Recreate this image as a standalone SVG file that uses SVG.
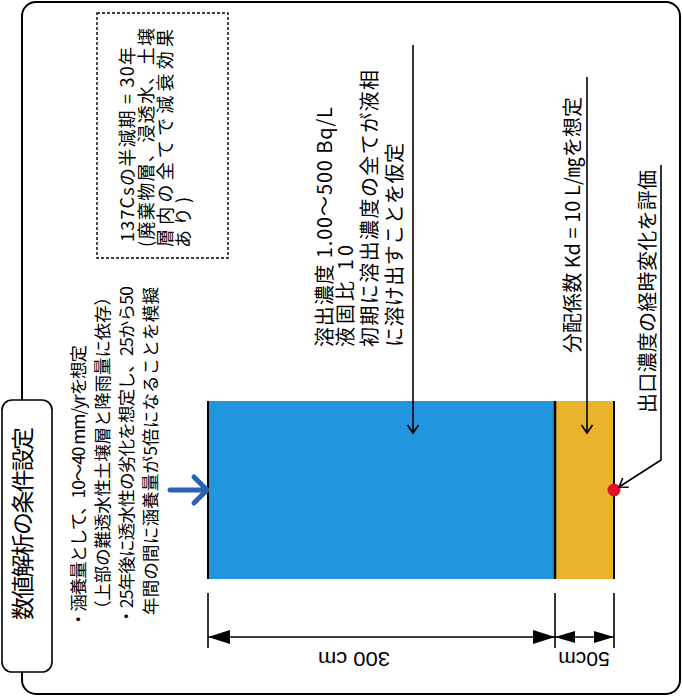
<svg xmlns="http://www.w3.org/2000/svg" width="683" height="698" viewBox="0 0 683 698">
<style>
text{font-family:"Noto Sans CJK JP","Noto Sans",sans-serif;fill:#000}
.t23{font-size:23px}
.t20{font-size:20px}
.t17{font-size:17.5px}
.t18{font-size:18px}
.dim{font-family:"Liberation Sans",Arial,sans-serif;font-size:21px}
.edge{stroke:#000;fill:none}
.lead{stroke:#000;stroke-width:1.6;fill:none}
</style>
<defs>
<marker id="chev" viewBox="-10 -6 12 12" refX="0" refY="0" markerWidth="12" markerHeight="12" markerUnits="userSpaceOnUse" orient="auto">
<path d="M-8,-5.5 L0,0 L-8,5.5" fill="none" stroke="#000" stroke-width="1.6"/>
</marker>
</defs>
<rect width="683" height="698" fill="#fff"/>
<g id="frame">
<rect x="22" y="2" width="658" height="692" rx="14" class="edge" stroke-width="2"/>
</g>
<g id="title">
<rect x="2" y="400" width="50" height="272" rx="10" fill="#fff" stroke="#000" stroke-width="1.6"/>
<text class="t23" transform="translate(31,620) rotate(-90)" textLength="193" lengthAdjust="spacing">数値解析の条件設定</text>
</g>
<g id="recharge-note">
<text class="t17" transform="translate(85,628) rotate(-90)" textLength="283" lengthAdjust="spacing">・涵養量として、10〜40 mm/yrを想定</text>
<text class="t17" transform="translate(109,618) rotate(-90)" textLength="330" lengthAdjust="spacing">（上部の難透水性土壌層と降雨量に依存）</text>
<text class="t17" transform="translate(133,625) rotate(-90)" textLength="339" lengthAdjust="spacing">・25年後に透水性の劣化を想定し、25から50</text>
<text class="t17" transform="translate(157,615) rotate(-90)" textLength="328" lengthAdjust="spacing">年間の間に涵養量が5倍になることを模擬</text>
</g>
<g id="decay-note">
<rect x="97" y="13" width="131" height="245" fill="none" stroke="#000" stroke-width="1.4" stroke-dasharray="3,2"/>
<text class="t18" transform="translate(134,242) rotate(-90)" textLength="195" lengthAdjust="spacing">137Csの半減期 = 30年</text>
<text class="t18" transform="translate(153,247) rotate(-90)" textLength="219" lengthAdjust="spacing">(廃棄物層、浸透水、土壌</text>
<text class="t18" transform="translate(172,247) rotate(-90)" textLength="218" lengthAdjust="spacing">層内の全てで減衰効果</text>
<text class="t18" transform="translate(190,248) rotate(-90)" textLength="51" lengthAdjust="spacing">あり)</text>
</g>
<g id="waste-layer">
<rect x="208" y="401" width="347" height="178" fill="#2196de"/>
<line x1="208" y1="401" x2="208" y2="579" class="edge" stroke-width="2"/>
</g>
<g id="soil-layer">
<rect x="555" y="401" width="59" height="178" fill="#e9b42c"/>
<line x1="555" y1="401" x2="555" y2="579" class="edge" stroke-width="2.5"/>
<line x1="614" y1="401" x2="614" y2="579" class="edge" stroke-width="2"/>
</g>
<g id="leach-note">
<text class="t20" transform="translate(332,347) rotate(-90)" textLength="240" lengthAdjust="spacing">溶出濃度 1.00〜500 Bq/L</text>
<text class="t20" transform="translate(353,347) rotate(-90)" textLength="102" lengthAdjust="spacing">液固比 10</text>
<text class="t20" transform="translate(377,347) rotate(-90)" textLength="277" lengthAdjust="spacing">初期に溶出濃度の全てが液相</text>
<text class="t20" transform="translate(402,347) rotate(-90)" textLength="204" lengthAdjust="spacing">に溶け出すことを仮定</text>
</g>
<g id="kd-note">
<text class="t20" transform="translate(580,353) rotate(-90)" textLength="256" lengthAdjust="spacing">分配係数 Kd = 10 L/㎎を想定</text>
</g>
<g id="outlet-note">
<text class="t20" transform="translate(655,413) rotate(-90)" textLength="243" lengthAdjust="spacing">出口濃度の経時変化を評価</text>
</g>
<g id="outlet-point">
<circle cx="614" cy="490" r="6.5" fill="#e01028"/>
</g>
<g id="connectors">
<path d="M170,490 L206,490 M194,477 L207,490 L194,503" fill="none" stroke="#2b62b8" stroke-width="5" stroke-linecap="round" stroke-linejoin="round"/>
<line x1="413" y1="45" x2="413" y2="433" class="lead" marker-end="url(#chev)"/>
<line x1="587" y1="77" x2="587" y2="433" class="lead" marker-end="url(#chev)"/>
<path d="M661,165 L661,460 L619,487" class="lead" marker-end="url(#chev)"/>
</g>
<g id="dimensions">
<line x1="208" y1="593" x2="208" y2="648" class="edge" stroke-width="1.6"/>
<line x1="555" y1="593" x2="555" y2="648" class="edge" stroke-width="1.6"/>
<line x1="614" y1="593" x2="614" y2="648" class="edge" stroke-width="1.6"/>
<line x1="208" y1="637" x2="614" y2="637" class="edge" stroke-width="1.6"/>
<polygon points="208,637 230,630 230,644"/>
<polygon points="555,637 533,630 533,644"/>
<polygon points="555,637 575,631 575,643"/>
<polygon points="614,637 594,631 594,643"/>
<text class="dim" transform="translate(354,652) rotate(180)" text-anchor="middle" textLength="72" lengthAdjust="spacingAndGlyphs">300 cm</text>
<text class="dim" transform="translate(584,652) rotate(180)" text-anchor="middle">50cm</text>
</g>
</svg>
